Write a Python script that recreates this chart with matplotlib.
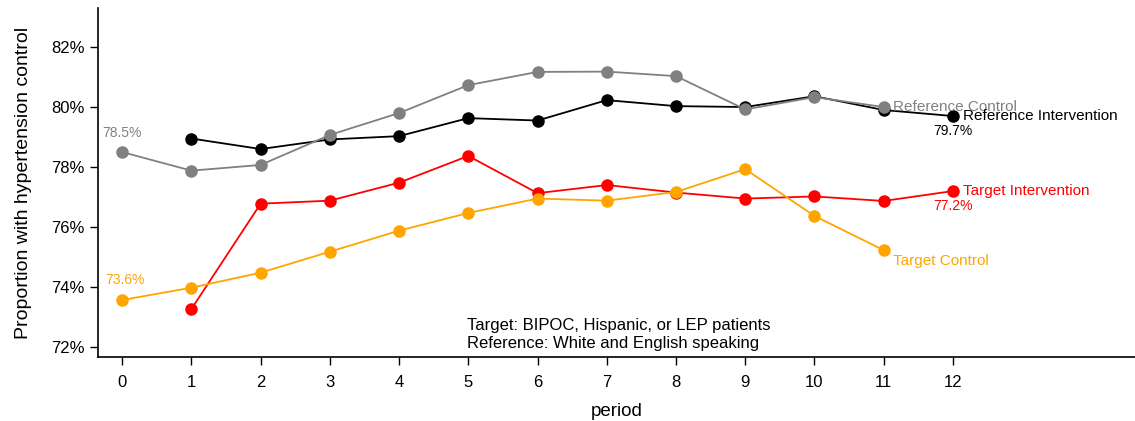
import matplotlib
matplotlib.use("Agg")
from matplotlib import pyplot as plt
from matplotlib.ticker import FuncFormatter

plt.rcParams["font.family"] = ["Liberation Sans", "DejaVu Sans"]

# Series values (percent)
ref_ctrl_x = [0, 1, 2, 3, 4, 5, 6, 7, 8, 9, 10, 11]
ref_ctrl_y = [78.5, 77.88, 78.07, 79.07, 79.8, 80.73, 81.17, 81.18, 81.03, 79.92, 80.33, 80.0]

ref_int_x = [1, 2, 3, 4, 5, 6, 7, 8, 9, 10, 11, 12]
ref_int_y = [78.95, 78.6, 78.92, 79.03, 79.63, 79.55, 80.23, 80.03, 80.0, 80.36, 79.9, 79.7]

tgt_int_x = [1, 2, 3, 4, 5, 6, 7, 8, 9, 10, 11, 12]
tgt_int_y = [73.27, 76.78, 76.88, 77.48, 78.37, 77.13, 77.4, 77.15, 76.95, 77.02, 76.87, 77.2]

tgt_ctrl_x = [0, 1, 2, 3, 4, 5, 6, 7, 8, 9, 10, 11]
tgt_ctrl_y = [73.57, 73.98, 74.48, 75.18, 75.88, 76.47, 76.95, 76.88, 77.17, 77.93, 76.37, 75.23]

x_ticks = list(range(13))
y_ticks = [72, 74, 76, 78, 80, 82]

RED = "#ff0000"
ORANGE = "#ffa500"
GRAY = "#808080"
BLACK = "#000000"

fig = plt.figure(figsize=(11.35, 4.21), dpi=100)
ax = fig.add_axes([0.0863, 0.152, 0.9137, 0.829])

style = dict(marker="o", markersize=8, linewidth=1.3)
ax.plot(tgt_int_x, tgt_int_y, color=RED, **style)
ax.plot(tgt_ctrl_x, tgt_ctrl_y, color=ORANGE, **style)
ax.plot(ref_int_x, ref_int_y, color=BLACK, **style)
ax.plot(ref_ctrl_x, ref_ctrl_y, color=GRAY, **style)

# start / end value labels
ax.annotate(f"{ref_ctrl_y[0]:.1f}%", (ref_ctrl_x[0], ref_ctrl_y[0]), xytext=(0, 9),
            textcoords="offset points", ha="center", va="bottom", color=GRAY, fontsize=10)
ax.annotate(f"{tgt_ctrl_y[0]:.1f}%", (tgt_ctrl_x[0], tgt_ctrl_y[0]), xytext=(2, 9),
            textcoords="offset points", ha="center", va="bottom", color=ORANGE, fontsize=10)
ax.annotate(f"{ref_int_y[-1]:.1f}%", (ref_int_x[-1], ref_int_y[-1]), xytext=(0, -6),
            textcoords="offset points", ha="center", va="top", color=BLACK, fontsize=10)
ax.annotate(f"{tgt_int_y[-1]:.1f}%", (tgt_int_x[-1], tgt_int_y[-1]), xytext=(0, -6),
            textcoords="offset points", ha="center", va="top", color=RED, fontsize=10)

# series names at line ends
ax.annotate("Reference Control", (ref_ctrl_x[-1], ref_ctrl_y[-1]), xytext=(7, 0),
            textcoords="offset points", ha="left", va="center", color=GRAY, fontsize=11)
ax.annotate("Reference Intervention", (ref_int_x[-1], ref_int_y[-1]), xytext=(7, 0),
            textcoords="offset points", ha="left", va="center", color=BLACK, fontsize=11)
ax.annotate("Target Intervention", (tgt_int_x[-1], tgt_int_y[-1]), xytext=(7, 0),
            textcoords="offset points", ha="left", va="center", color=RED, fontsize=11)
ax.annotate("Target Control", (tgt_ctrl_x[-1], tgt_ctrl_y[-1]), xytext=(7, -8),
            textcoords="offset points", ha="left", va="center", color=ORANGE, fontsize=11)

ax.text(4.98, 71.87, "Target: BIPOC, Hispanic, or LEP patients\nReference: White and English speaking",
        ha="left", va="bottom", fontsize=12, linespacing=1.25)

ax.set_xlim(-0.35, 14.63)
ax.set_ylim(71.67, 83.3)
ax.set_xticks(x_ticks)
ax.set_yticks(y_ticks)
ax.yaxis.set_major_formatter(FuncFormatter(lambda v, p: f"{v:.0f}%"))
ax.tick_params(direction="out", length=6, labelsize=12, width=1)
ax.tick_params(axis="x", pad=7)
ax.spines["top"].set_visible(False)
ax.spines["right"].set_visible(False)
ax.spines["left"].set_linewidth(1.2)
ax.spines["bottom"].set_linewidth(1.2)
ax.set_xlabel("period", fontsize=13.5, labelpad=9)
ax.set_ylabel("Proportion with hypertension control", fontsize=14, labelpad=14)

fig.savefig("out.png", dpi=100)
